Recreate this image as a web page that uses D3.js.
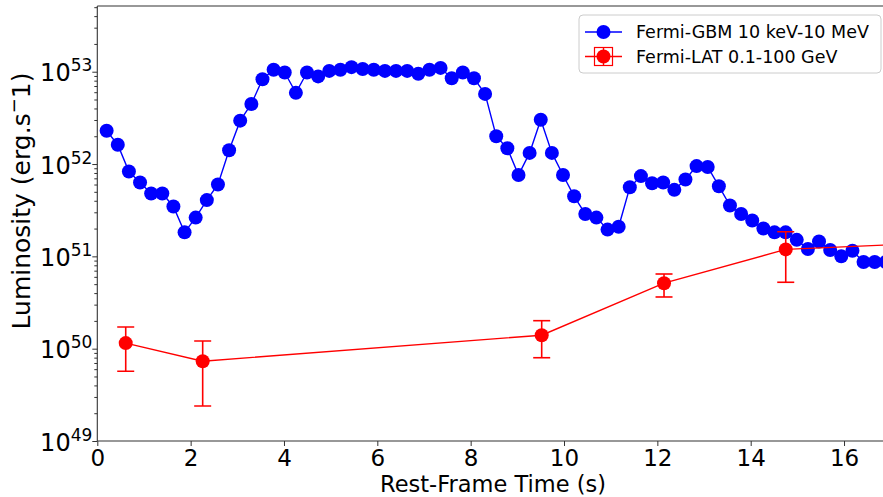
<!DOCTYPE html>
<html>
<head>
<meta charset="utf-8">
<script src="https://cdn.jsdelivr.net/npm/d3@7"></script>
<style>
  html, body { margin: 0; padding: 0; background: #fff; }
  svg { display: block; font-family: "DejaVu Sans", sans-serif; }
</style>
</head>
<body>
<svg id="chart" width="883" height="497"></svg>
<script>
// Fermi-GBM light curve (10 keV - 10 MeV): rest-frame time (s) and luminosity (erg/s)
const gbmTime = [
  0.200, 0.439, 0.677, 0.916, 1.154, 1.393, 1.631, 1.870, 2.108, 2.347,
  2.585, 2.824, 3.062, 3.301, 3.539, 3.778, 4.016, 4.255, 4.493, 4.732,
  4.970, 5.209, 5.447, 5.686, 5.924, 6.163, 6.401, 6.640, 6.878, 7.117,
  7.355, 7.594, 7.832, 8.071, 8.309, 8.548, 8.786, 9.025, 9.263, 9.502,
  9.740, 9.979, 10.217, 10.456, 10.694, 10.933, 11.171, 11.410, 11.648, 11.887,
  12.125, 12.364, 12.602, 12.841, 13.079, 13.318, 13.556, 13.795, 14.033, 14.272,
  14.510, 14.749, 14.987, 15.226, 15.464, 15.703, 15.941, 16.180, 16.418, 16.657,
  16.895
];
const gbmLum = [
  2.29e52, 1.62e52, 8.3e51, 6.3e51, 4.8e51, 4.8e51, 3.47e51, 1.82e51, 2.63e51, 4.07e51,
  6.0e51, 1.41e52, 2.95e52, 4.47e52, 8.3e52, 1.05e53, 9.8e52, 5.9e52, 9.8e52, 8.9e52,
  1.02e53, 1.05e53, 1.12e53, 1.07e53, 1.05e53, 1.02e53, 1.02e53, 1.02e53, 9.5e52, 1.05e53,
  1.10e53, 8.5e52, 9.8e52, 8.5e52, 5.75e52, 2.0e52, 1.48e52, 7.6e51, 1.32e52, 3.02e52,
  1.32e52, 7.6e51, 4.47e51, 2.88e51, 2.63e51, 1.95e51, 2.09e51, 5.6e51, 7.4e51, 6.2e51,
  6.3e51, 5.25e51, 6.8e51, 9.5e51, 9.3e51, 5.75e51, 3.55e51, 2.88e51, 2.45e51, 2.0e51,
  1.82e51, 1.82e51, 1.51e51, 1.20e51, 1.45e51, 1.17e51, 1.0e51, 1.15e51, 8.7e50, 8.7e50,
  8.7e50
];

// Fermi-LAT light curve (0.1 - 100 GeV) with lower / upper error limits
const latTime = [0.609, 2.258, 9.522, 12.143, 14.751, 17.4];
const latLum  = [1.15e50, 7.31e49, 1.40e50, 5.12e50, 1.19e51, 1.36e51];
const latLow  = [5.69e49, 2.39e49, 7.98e49, 3.63e50, 5.24e50, 9.5e50];
const latHigh = [1.72e50, 1.21e50, 2.01e50, 6.44e50, 1.85e51, 1.9e51];

// Axis ticks
const xTicks = [0, 2, 4, 6, 8, 10, 12, 14, 16];
const yDecades = [49, 50, 51, 52, 53];

const legendLabels = ["Fermi-GBM 10 keV-10 MeV", "Fermi-LAT 0.1-100 GeV"];

const plot = { left: 97.3, right: 883, top: 6, bottom: 441 };

const x = d3.scaleLinear().domain([0, 16.835]).range([plot.left, plot.right]);
const y = d3.scaleLog().domain([1e49, 5.15e53]).range([plot.bottom, plot.top]);

const svg = d3.select("#chart");

svg.append("defs").append("clipPath").attr("id", "plotClip")
  .append("rect")
  .attr("x", plot.left).attr("y", plot.top)
  .attr("width", plot.right - plot.left).attr("height", plot.bottom - plot.top);

const layer = svg.append("g").attr("clip-path", "url(#plotClip)");

// GBM series
const gbm = gbmTime.map((t, i) => ({ t, v: gbmLum[i] }));
const line = d3.line().x(d => x(d.t)).y(d => y(d.v));

layer.append("path").datum(gbm)
  .attr("d", line)
  .attr("fill", "none").attr("stroke", "#0000ff").attr("stroke-width", 1.4);

layer.selectAll("circle.gbm").data(gbm).join("circle")
  .attr("class", "gbm")
  .attr("cx", d => x(d.t)).attr("cy", d => y(d.v)).attr("r", 7)
  .attr("fill", "#0000ff");

// LAT series with error bars
const lat = latTime.map((t, i) => ({ t, v: latLum[i], lo: latLow[i], hi: latHigh[i] }));

layer.append("path").datum(lat)
  .attr("d", line)
  .attr("fill", "none").attr("stroke", "#ff0000").attr("stroke-width", 1.4);

const eb = layer.selectAll("g.err").data(lat).join("g").attr("class", "err")
  .attr("stroke", "#ff0000").attr("stroke-width", 1.6);
eb.append("line")
  .attr("x1", d => x(d.t)).attr("x2", d => x(d.t))
  .attr("y1", d => y(d.lo)).attr("y2", d => y(d.hi));
eb.append("line")
  .attr("x1", d => x(d.t) - 8.5).attr("x2", d => x(d.t) + 8.5)
  .attr("y1", d => y(d.lo)).attr("y2", d => y(d.lo));
eb.append("line")
  .attr("x1", d => x(d.t) - 8.5).attr("x2", d => x(d.t) + 8.5)
  .attr("y1", d => y(d.hi)).attr("y2", d => y(d.hi));

layer.selectAll("circle.lat").data(lat).join("circle")
  .attr("class", "lat")
  .attr("cx", d => x(d.t)).attr("cy", d => y(d.v)).attr("r", 7)
  .attr("fill", "#ff0000");

// Axes
const axisColor = "#333";
const xAxis = svg.append("g")
  .attr("transform", `translate(0,${plot.bottom})`)
  .call(d3.axisBottom(x).tickValues(xTicks).tickSize(5).tickPadding(4).tickFormat(d3.format("d")));
xAxis.select(".domain").remove();
xAxis.selectAll(".tick line").attr("stroke", axisColor);
xAxis.selectAll("text").attr("font-size", 23).attr("fill", "#000")
  .attr("font-family", "DejaVu Sans");

const yMinor = [];
yDecades.forEach(e => { for (let k = 2; k <= 9; k++) { const v = k * Math.pow(10, e); if (v <= y.domain()[1]) yMinor.push(v); } });

const yMinorAxis = svg.append("g")
  .attr("transform", `translate(${plot.left},0)`)
  .call(d3.axisLeft(y).tickValues(yMinor).tickSize(3).tickFormat(""));
yMinorAxis.select(".domain").remove();
yMinorAxis.selectAll(".tick line").attr("stroke", axisColor);

const yAxis = svg.append("g")
  .attr("transform", `translate(${plot.left},0)`)
  .call(d3.axisLeft(y).tickValues(yDecades.map(e => Math.pow(10, e))).tickSize(5).tickFormat(""));
yAxis.select(".domain").remove();
yAxis.selectAll(".tick line").attr("stroke", axisColor);
yAxis.selectAll(".tick").each(function (d) {
  const e = Math.round(Math.log10(d));
  const t = d3.select(this).append("text")
    .attr("x", -5).attr("y", 9)
    .attr("text-anchor", "end").attr("fill", "#000")
    .attr("font-family", "DejaVu Sans");
  t.append("tspan").attr("font-size", 24).text("10");
  t.append("tspan").attr("font-size", 17).attr("dy", -10).text(String(e));
});

// Spines: left, bottom, top
svg.append("line").attr("x1", plot.left).attr("x2", plot.left).attr("y1", plot.top).attr("y2", plot.bottom)
  .attr("stroke", axisColor).attr("stroke-width", 1.1);
svg.append("line").attr("x1", plot.left).attr("x2", plot.right).attr("y1", plot.bottom).attr("y2", plot.bottom)
  .attr("stroke", axisColor).attr("stroke-width", 1.1);
svg.append("line").attr("x1", plot.left).attr("x2", plot.right).attr("y1", plot.top).attr("y2", plot.top)
  .attr("stroke", axisColor).attr("stroke-width", 1.1);

// Axis titles
svg.append("text")
  .attr("x", 493).attr("y", 492)
  .attr("text-anchor", "middle").attr("font-size", 22.5).attr("fill", "#000")
  .text("Rest-Frame Time (s)");

const yl = svg.append("text")
  .attr("transform", "translate(30,201) rotate(-90)")
  .attr("text-anchor", "middle").attr("font-size", 25).attr("fill", "#000");
yl.append("tspan").text("Luminosity (erg.s");
yl.append("tspan").attr("font-size", 18).attr("dy", -10).text("\u2212");
yl.append("tspan").attr("dy", 10).text("1)");

// Legend
const lg = svg.append("g");
lg.append("rect")
  .attr("x", 579).attr("y", 15).attr("width", 302).attr("height", 58).attr("rx", 4)
  .attr("fill", "#fff").attr("fill-opacity", 0.8).attr("stroke", "#ccc");

const rows = [
  { label: legendLabels[0], color: "#0000ff", y: 32, err: false },
  { label: legendLabels[1], color: "#ff0000", y: 56.5, err: true }
];
rows.forEach(r => {
  lg.append("line").attr("x1", 585).attr("x2", 622).attr("y1", r.y).attr("y2", r.y)
    .attr("stroke", r.color).attr("stroke-width", 1.4);
  if (r.err) {
    lg.append("rect").attr("x", 594.5).attr("y", r.y - 9).attr("width", 18).attr("height", 18)
      .attr("fill", "none").attr("stroke", r.color).attr("stroke-width", 1.2);
    lg.append("line").attr("x1", 603.5).attr("x2", 603.5).attr("y1", r.y - 9).attr("y2", r.y + 9)
      .attr("stroke", r.color).attr("stroke-width", 1.4);
  }
  lg.append("circle").attr("cx", 603.5).attr("cy", r.y).attr("r", 7).attr("fill", r.color);
  lg.append("text").attr("x", 636).attr("y", r.y + 6)
    .attr("font-size", 17.5).attr("fill", "#000").text(r.label);
});
</script>
</body>
</html>
